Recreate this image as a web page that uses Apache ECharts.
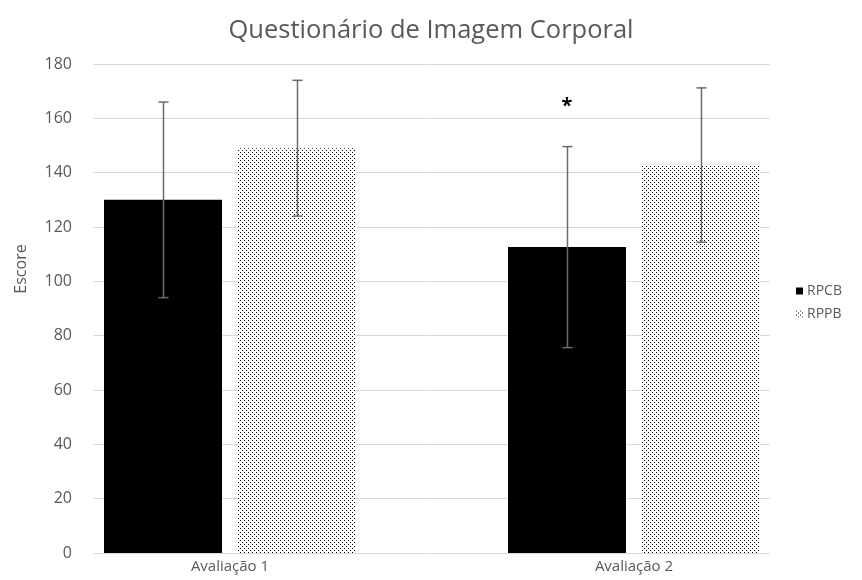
<!DOCTYPE html>
<html>
<head>
<meta charset="utf-8">
<script src="https://cdn.jsdelivr.net/npm/echarts@6/dist/echarts.min.js"></script>
<style>
  html, body { margin: 0; padding: 0; background: #fff; }
  #chart { width: 862px; height: 580px; }
</style>
</head>
<body>
<div id="chart"></div>
<script>
// Questionnaire scores per assessment, mean and standard deviation per group
const categories = ['Avaliação 1', 'Avaliação 2'];
const seriesNames = ['RPCB', 'RPPB'];
const rpcbMean = [130, 112.6];
const rpcbSd = [36, 37];
const rppbMean = [149, 142.8];
const rppbSd = [25, 28.4];
// significance marker placed above the RPCB bar of the second assessment
const sigMark = [null, 165];
const yTicks = [0, 20, 40, 60, 80, 100, 120, 140, 160, 180];

const textColor = '#595959';
const fontFamily = '"Open Sans", "Noto Sans", sans-serif';
const BAR_W = 118;
const BAR_GAP = 16;

// dotted fill for the RPPB bars
function dotPattern() {
  const c = document.createElement('canvas');
  c.width = 4; c.height = 4;
  const ctx = c.getContext('2d');
  ctx.fillStyle = '#ffffff';
  ctx.fillRect(0, 0, 4, 4);
  ctx.fillStyle = '#000000';
  ctx.fillRect(0, 0, 1, 1);
  ctx.fillRect(2, 2, 1, 1);
  return c;
}
const dots = { image: dotPattern(), repeat: 'repeat' };

const chart = echarts.init(document.getElementById('chart'), null, { renderer: 'canvas' });

function errorBars(means, sds, seriesIdx) {
  const shift = (seriesIdx === 0 ? -1 : 1) * (BAR_W + BAR_GAP) / 2;
  return {
    type: 'custom',
    xAxisIndex: 1,
    yAxisIndex: 1,
    z: 10,
    silent: true,
    data: means.map((m, i) => [i, m - sds[i], m + sds[i]]),
    renderItem: function (params, api) {
      const lo = api.coord([api.value(0), api.value(1)]);
      const hi = api.coord([api.value(0), api.value(2)]);
      const x = Math.round(lo[0] + shift) + 0.5;
      const cap = 5;
      const style = { stroke: '#6b6b6b', lineWidth: 1.5 };
      return {
        type: 'group',
        children: [
          { type: 'line', shape: { x1: x, y1: lo[1], x2: x, y2: hi[1] }, style: style },
          { type: 'line', shape: { x1: x - cap, y1: hi[1], x2: x + cap, y2: hi[1] }, style: style },
          { type: 'line', shape: { x1: x - cap, y1: lo[1], x2: x + cap, y2: lo[1] }, style: style }
        ]
      };
    }
  };
}

const option = {
  animation: false,
  backgroundColor: '#ffffff',
  textStyle: { fontFamily: fontFamily },
  title: {
    text: 'Questionário de Imagem Corporal',
    left: 'center',
    top: 13,
    textStyle: { color: textColor, fontSize: 25.5, fontWeight: 'normal', fontFamily: fontFamily }
  },
  graphic: [
    {
      type: 'text',
      x: 21,
      y: 269,
      rotation: Math.PI / 2,
      style: {
        text: 'Escore', fill: textColor, fontSize: 16, fontFamily: fontFamily,
        align: 'center', verticalAlign: 'middle'
      }
    }
  ],
  legend: {
    orient: 'vertical',
    left: 796,
    top: 284,
    padding: 0,
    itemWidth: 7,
    itemHeight: 7,
    itemGap: 9,
    icon: 'rect',
    data: seriesNames,
    textStyle: { color: textColor, fontSize: 14, fontFamily: fontFamily, padding: [0, 0, 0, -1] }
  },
  grid: [
    { left: 93, right: 92, top: 64, bottom: 27 },
    { left: 28, right: 26, top: 64, bottom: 27 }
  ],
  xAxis: [
    {
      type: 'category', gridIndex: 0, data: categories,
      axisLine: { show: false }, axisTick: { show: false }, axisLabel: { show: false }
    },
    {
      type: 'category', gridIndex: 1, data: categories,
      axisLine: { show: false }, axisTick: { show: false },
      axisLabel: { color: textColor, fontSize: 15, margin: 6, fontFamily: fontFamily }
    }
  ],
  yAxis: [
    {
      type: 'value', gridIndex: 0, min: yTicks[0], max: yTicks[yTicks.length - 1], interval: 20,
      axisLine: { show: false }, axisTick: { show: false },
      axisLabel: { color: textColor, fontSize: 16, margin: 21, fontFamily: fontFamily },
      splitLine: { lineStyle: { color: '#d9d9d9', width: 1 } }
    },
    {
      type: 'value', gridIndex: 1, min: yTicks[0], max: yTicks[yTicks.length - 1], interval: 20,
      show: false, splitLine: { show: false }
    }
  ],
  series: [
    {
      name: seriesNames[0], type: 'bar', xAxisIndex: 1, yAxisIndex: 1,
      data: rpcbMean, barWidth: BAR_W, barGap: (BAR_GAP / BAR_W * 100) + '%',
      itemStyle: { color: '#000000' }
    },
    {
      name: seriesNames[1], type: 'bar', xAxisIndex: 1, yAxisIndex: 1,
      data: rppbMean, barWidth: BAR_W,
      itemStyle: { color: dots }
    },
    errorBars(rpcbMean, rpcbSd, 0),
    errorBars(rppbMean, rppbSd, 1),
    {
      type: 'custom', xAxisIndex: 1, yAxisIndex: 1, z: 11, silent: true,
      data: sigMark.map((v, i) => v == null ? null : [i, v]).filter(d => d),
      renderItem: function (params, api) {
        const p = api.coord([api.value(0), api.value(1)]);
        return {
          type: 'text',
          x: p[0] - (BAR_W + BAR_GAP) / 2,
          y: p[1] + 2,
          style: { text: '*', fill: '#000000', fontSize: 20, fontWeight: 'bold', align: 'center', verticalAlign: 'middle', fontFamily: fontFamily }
        };
      }
    }
  ]
};

chart.setOption(option);
</script>
</body>
</html>
